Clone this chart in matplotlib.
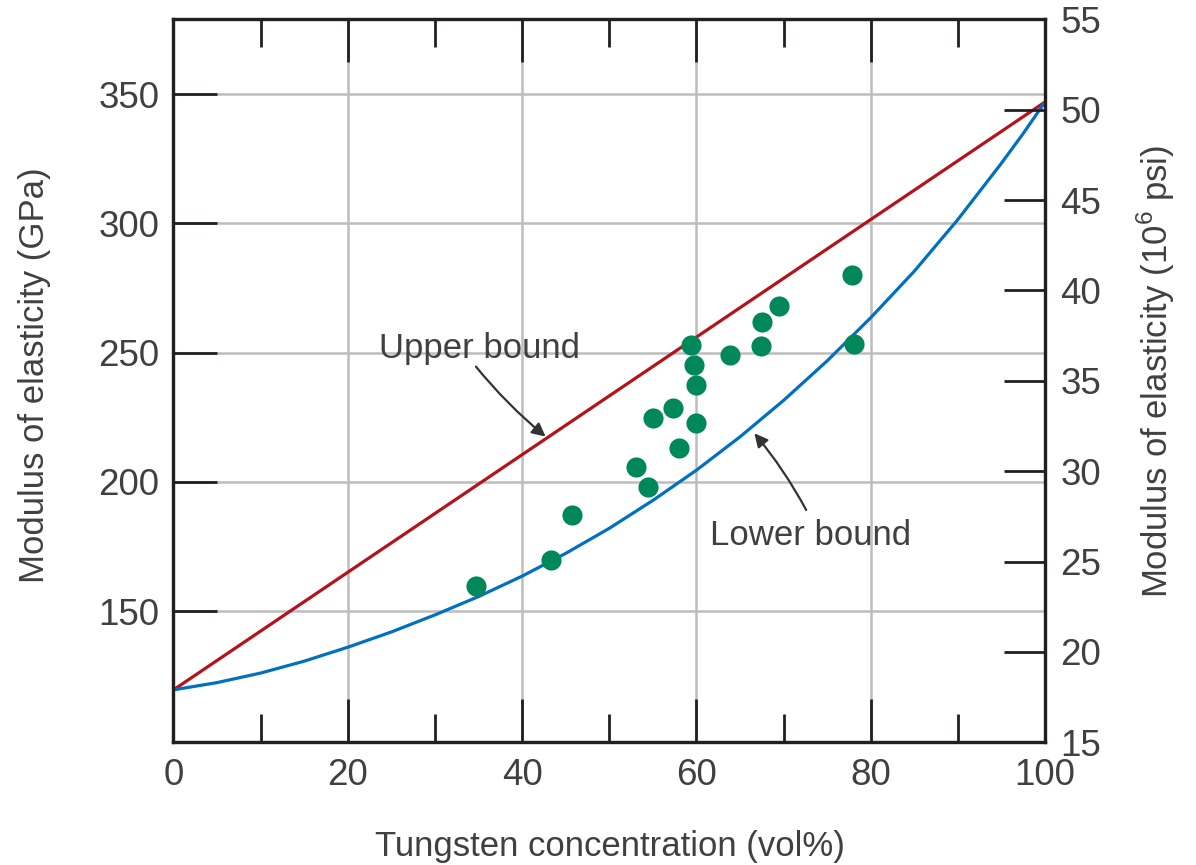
import matplotlib
matplotlib.use("Agg")
import matplotlib.pyplot as plt
import numpy as np

# ---- data ----
upper_x = [0, 100]
upper_y = [119.5, 347.0]

lower_x = [0, 5, 10, 15, 20, 25, 30, 35, 40, 45, 50, 55, 60, 65, 70, 75, 80, 85, 90, 95, 97.5, 100]
lower_y = [119.5, 122.3, 126.0, 130.6, 136.0, 141.9, 148.5, 155.6, 163.5, 172.3, 182.0, 192.8,
           204.5, 217.4, 231.5, 246.8, 263.5, 281.5, 301.5, 323.3, 334.8, 347.0]

pts_x = [34.7, 43.3, 45.7, 53.1, 54.5, 58.0, 55.0, 57.3, 59.4, 59.7, 59.9, 59.9, 63.9, 67.4, 67.5, 69.5, 78.1, 77.8]
pts_y = [159.7, 169.7, 187.2, 205.9, 198.1, 213.0, 224.6, 228.5, 253.0, 245.2, 237.5, 222.9, 249.1, 252.6, 262.0, 268.1, 253.2, 280.1]

x_major = [0, 20, 40, 60, 80, 100]
x_minor = [10, 30, 50, 70, 90]
y_left_ticks = [150, 200, 250, 300, 350]
y_right_ticks = [15, 20, 25, 30, 35, 40, 45, 50, 55]

# ---- style ----
plt.rcParams['font.family'] = ['Liberation Sans', 'DejaVu Sans']
plt.rcParams['mathtext.fontset'] = 'custom'
plt.rcParams['mathtext.rm'] = 'Liberation Sans'
TXT = '#404040'
SPINE = '#231f20'
RED = '#b5121b'
BLUE = '#0070c0'
GREEN = '#00875a'
GRID = '#bdbdbd'
FS = 25
TFS = 26.5

fig = plt.figure(figsize=(11.96, 8.65), dpi=100)
ax = fig.add_axes([173.5/1196, 1-742.3/865, 871.5/1196, 723.0/865])

ax.set_xlim(0, 100)
ax.set_ylim(99.2, 379.0)
ax.set_axisbelow(True)

ax.plot(upper_x, upper_y, color=RED, lw=2.3, solid_capstyle='butt', zorder=3)
ax.plot(lower_x, lower_y, color=BLUE, lw=2.3, solid_capstyle='butt', solid_joinstyle='round', zorder=3)
ax.plot(pts_x, pts_y, 'o', color=GREEN, ms=14.5, mew=0, zorder=4)

ax.set_xticks(x_major)
ax.set_xticks(x_minor, minor=True)
ax.set_yticks(y_left_ticks)
ax.grid(True, which='major', color=GRID, lw=1.8)

ax.tick_params(axis='x', which='major', direction='in', length=31, width=2.0, color=SPINE,
               top=True, bottom=True, labelsize=TFS, labelcolor=TXT, pad=11)
ax.tick_params(axis='x', which='minor', direction='in', length=20, width=2.0, color=SPINE,
               top=True, bottom=True)
ax.tick_params(axis='y', which='major', direction='in', length=32, width=2.0, color=SPINE,
               left=True, right=False, labelsize=TFS, labelcolor=TXT, pad=10)

for s in ax.spines.values():
    s.set_linewidth(2.3)
    s.set_color(SPINE)

ax2 = ax.twinx()
ax2.set_ylim(15, 55)
ax2.set_yticks(y_right_ticks)
ax2.tick_params(axis='y', which='major', direction='in', length=29.5, width=2.0, color=SPINE,
                labelsize=TFS, labelcolor=TXT, pad=11)
for s in ax2.spines.values():
    s.set_linewidth(2.3)
    s.set_color(SPINE)

# annotations
ax.text(23.6, 247.9, 'Upper bound', fontsize=FS, color=TXT, ha='left', va='baseline')
ax.annotate('', xy=(42.7, 217.5), xytext=(34.7, 244.6),
            arrowprops=dict(arrowstyle='-|>', color='#333333', lw=1.6, mutation_scale=20,
                            shrinkA=0, shrinkB=0, connectionstyle='arc3,rad=0.05'))
ax.text(61.6, 175.5, 'Lower bound', fontsize=FS, color=TXT, ha='left', va='baseline')
ax.annotate('', xy=(66.65, 218.8), xytext=(72.6, 189.1),
            arrowprops=dict(arrowstyle='-|>', color='#333333', lw=1.6, mutation_scale=20,
                            shrinkA=0, shrinkB=0, connectionstyle='arc3,rad=0.05'))

# axis labels
fig.text(610/1196, 1-856/865, 'Tungsten concentration (vol%)', fontsize=FS, color=TXT,
         ha='center', va='baseline')
fig.text(44/1196, 1-375/865, 'Modulus of elasticity (GPa)', fontsize=FS, color=TXT,
         rotation=90, rotation_mode='anchor', ha='center', va='baseline')
fig.text(1168/1196, 1-371/865, r'Modulus of elasticity (10$^{\mathregular{6}}$ psi)', fontsize=FS,
         color=TXT, rotation=90, rotation_mode='anchor', ha='center', va='baseline')

fig.savefig('out.png', dpi=100)
